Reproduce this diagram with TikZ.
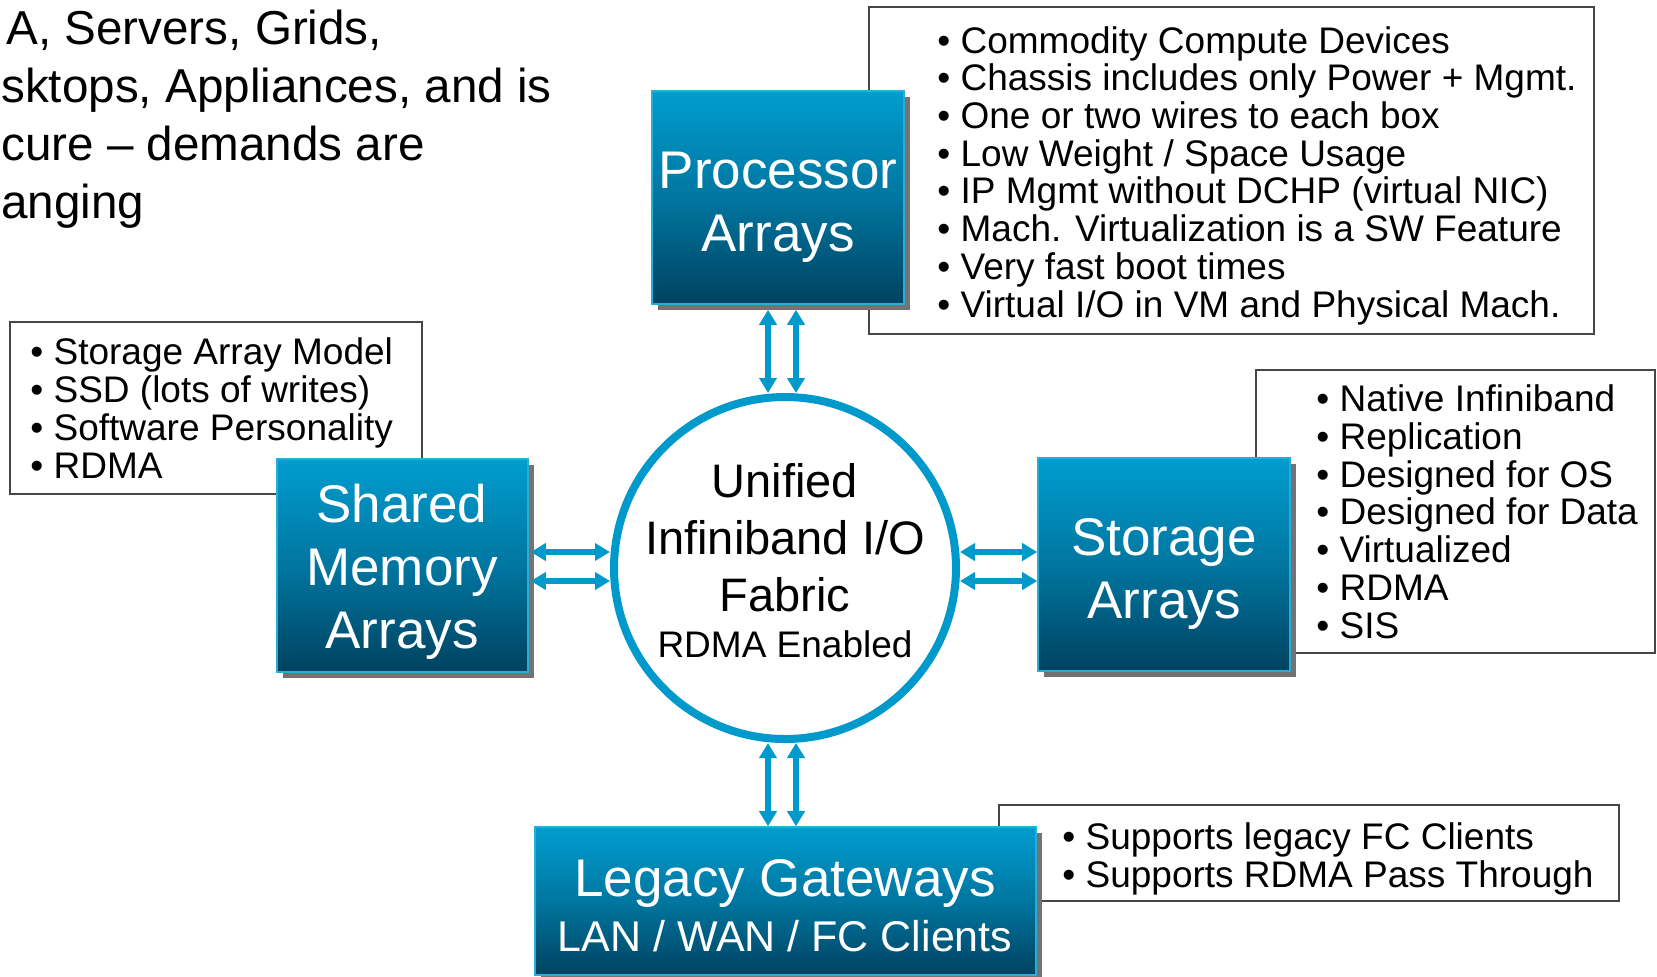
\documentclass[tikz,border=0pt]{standalone}
\usepackage{fontspec}
\setmainfont{Liberation Sans}
\usetikzlibrary{arrows.meta,shadows,fit,calc}

\definecolor{ibblue}{RGB}{0,153,204}
\definecolor{boxtop}{RGB}{0,157,207}
\definecolor{boxmid}{RGB}{0,118,160}
\definecolor{boxbot}{RGB}{0,66,96}
\definecolor{boxedge}{RGB}{40,172,216}
\definecolor{listedge}{RGB}{70,70,70}

\begin{document}
\begin{tikzpicture}[x=0.5pt,y=-0.5pt,
  bluebox/.style={rectangle, inner sep=0pt, draw=boxedge, line width=0.8pt,
    top color=boxtop, bottom color=boxbot, middle color=boxmid,
    drop shadow={shadow xshift=2.8pt, shadow yshift=-2.8pt, fill=black!55, opacity=1}},
  listbox/.style={rectangle, inner sep=0pt, draw=listedge, line width=0.7pt, fill=white},
  listtext/.style={inner sep=0pt, align=left, anchor=base west,
    font=\fontsize{18.5}{18.85}\selectfont},
  boxtext/.style={inner sep=0pt, align=center, anchor=base, text=white,
    font=\fontsize{26.5}{31.5}\selectfont},
  biarrow/.style={draw=ibblue, line width=2.6pt,
    {Triangle[width=8.5pt,length=7.5pt]}-{Triangle[width=8.5pt,length=7.5pt]}}
]
\useasboundingbox (0,0) rectangle (1657,976);

% heading text at the upper left (anchored on its last line)
\node[inner sep=0pt, align=left, anchor=base west,
  font=\fontsize{23.8}{29}\selectfont] (intro) at (1,218)
  {\hspace*{2.5pt}A, Servers, Grids,\\sktops, Appliances, and is\\cure – demands are\\anging};

% feature lists
\node[listbox, fit={(869,7) (1594,334)}] (plist) {};
\node[listtext] (ptext) at (937,317) {• Commodity Compute Devices\\• Chassis includes only Power + Mgmt.\\• One or two wires to each box\\• Low Weight / Space Usage\\• IP Mgmt without DCHP (virtual NIC)\\• Mach. Virtualization is a SW Feature\\• Very fast boot times\\• Virtual I/O in VM and Physical Mach.};

\node[listbox, fit={(10,322) (422,494)}] (slist) {};
\node[listtext] (stext) at (30,478) {• Storage Array Model\\• SSD (lots of writes)\\• Software Personality\\• RDMA};

\node[listbox, fit={(1256,370) (1655,653)}] (alist) {};
\node[listtext] (atext) at (1316,638) {• Native Infiniband\\• Replication\\• Designed for OS\\• Designed for Data\\• Virtualized\\• RDMA\\• SIS};

\node[listbox, fit={(999,805) (1619,901)}] (llist) {};
\node[listtext] (ltext) at (1062,887) {• Supports legacy FC Clients\\• Supports RDMA Pass Through};

% blue component boxes
\node[bluebox, fit={(652,91) (904,304)}] (proc) {};
\node[boxtext] (proctext) at (778,251) {Processor\\Arrays};

\node[bluebox, fit={(277,459) (528,672)}] (sm) {};
\node[boxtext] (smtext) at (402,648) {Shared\\Memory\\Arrays};

\node[bluebox, fit={(1038,458) (1290,671)}] (sa) {};
\node[boxtext] (satext) at (1164,618) {Storage\\Arrays};

\node[bluebox, fit={(535,827) (1036,975)}] (leg) {};
\node[boxtext, font=\fontsize{26.5}{27.5}\selectfont] (legtext) at (785,951)
  {Legacy Gateways\\\fontsize{21.5}{27.5}\selectfont LAN / WAN / FC Clients};

% central fabric
\node[circle, draw=ibblue, line width=4pt, minimum size=171pt, inner sep=0pt, fill=white] (hub) at (785,568) {};
\node[inner sep=0pt, align=center, anchor=base, font=\fontsize{23.5}{28.5}\selectfont] (hubtext) at (785,611)
  {Unified\\Infiniband I/O\\Fabric};
\node[inner sep=0pt, anchor=base, font=\fontsize{18.5}{22}\selectfont] (hubsub) at (785,657) {RDMA Enabled};

% link positions
\coordinate (vL) at (768,0);
\coordinate (vR) at (796,0);
\coordinate (hU) at (0,552);
\coordinate (hD) at (0,581);

% paired links
\draw[biarrow] ($(vL |- proc.south)+(0,5)$) -- (vL |- hub.north);
\draw[biarrow] ($(vR |- proc.south)+(0,5)$) -- (vR |- hub.north);
\draw[biarrow] (vL |- hub.south) -- (vL |- leg.north);
\draw[biarrow] (vR |- hub.south) -- (vR |- leg.north);
\draw[biarrow] ($(hU -| sm.east)+(2,0)$) -- (hU -| hub.west);
\draw[biarrow] ($(hD -| sm.east)+(2,0)$) -- (hD -| hub.west);
\draw[biarrow] (hU -| hub.east) -- (hU -| sa.west);
\draw[biarrow] (hD -| hub.east) -- (hD -| sa.west);
\end{tikzpicture}
\end{document}
